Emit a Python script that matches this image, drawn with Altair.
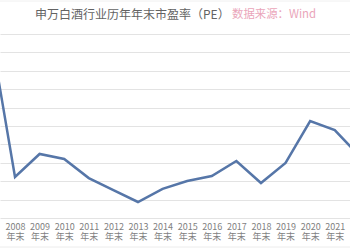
import altair as alt
import pandas as pd

years = [2007, 2008, 2009, 2010, 2011, 2012, 2013, 2014, 2015, 2016, 2017, 2018, 2019, 2020, 2021, 2022]
pe = [101.0, 22.3, 34.8, 32.1, 21.7, 15.2, 8.7, 15.8, 20.1, 22.8, 31.0, 19.0, 29.9, 52.7, 47.8, 33.7]
tick_years = list(range(2008, 2022))
title_main = "申万白酒行业历年年末市盈率（PE）"
title_src = "数据来源：Wind"

df = pd.DataFrame({"year": years, "pe": pe})

W, H = 350, 184

line = alt.Chart(df).mark_line(color="#5676a8", strokeWidth=2.5, clip=True).encode(
    x=alt.X("year:Q",
            scale=alt.Scale(domain=[2007.39, 2021.62], nice=False, zero=False),
            axis=alt.Axis(values=tick_years, format="d", title=None, domain=False, ticks=False,
                          grid=False, labelExpr="[datum.label, '年末']", labelFontSize=9,
                          labelColor="#7f7f7f", labelPadding=4, labelOverlap=False,
                          labelFlush=False, labelBound=False, labelLineHeight=10,
                          labelFont="Noto Sans CJK SC")),
    y=alt.Y("pe:Q", scale=alt.Scale(domain=[0, 100], nice=False),
            axis=alt.Axis(values=list(range(0, 101, 10)), title=None, labels=False, domain=False,
                          ticks=False, grid=True, gridColor="#e3e3e3", gridWidth=1)),
)

t1 = alt.Chart(pd.DataFrame({"t": [title_main]})).mark_text(
    fontSize=12, color="#636363", font="Noto Sans CJK SC", align="left", baseline="middle"
).encode(x=alt.value(35), y=alt.value(-19), text="t:N")

t2 = alt.Chart(pd.DataFrame({"t": [title_src]})).mark_text(
    fontSize=11.4, color="#eaa5ba", font="Noto Sans CJK SC", align="left", baseline="middle"
).encode(x=alt.value(232), y=alt.value(-19), text="t:N")

bottom = alt.Chart(pd.DataFrame({"a": [0]})).mark_rule(color="#ececec", strokeWidth=1).encode(
    x=alt.value(0), x2=alt.value(W), y=alt.value(213)
)

top = alt.Chart(pd.DataFrame({"a": [0]})).mark_rule(color="#f0f0f0", strokeWidth=1).encode(
    x=alt.value(0), x2=alt.value(W), y=alt.value(-33)
)

chart = alt.layer(line, t1, t2, bottom, top).properties(
    width=W, height=H,
    autosize=alt.AutoSizeParams(type="none"),
    padding={"left": 0, "right": 0, "top": 34, "bottom": 32},
    background="white",
).configure_view(stroke=None)

chart.save("out.html", embed_options={"renderer": "svg", "actions": False})
